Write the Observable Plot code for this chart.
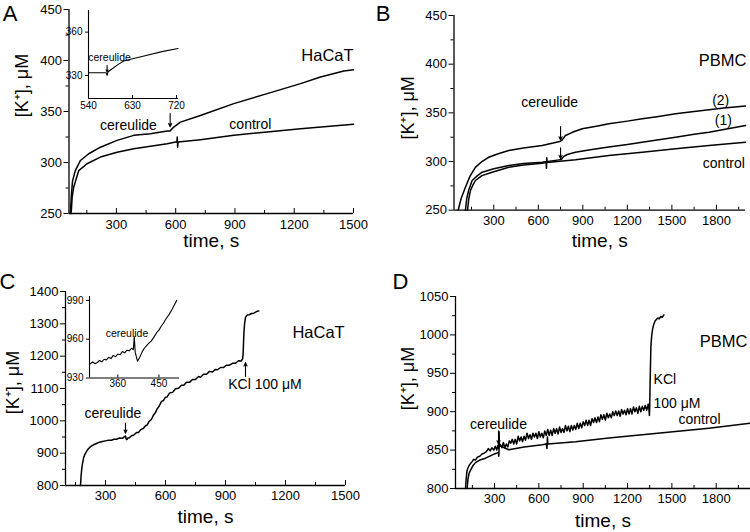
<!DOCTYPE html>
<html><head><meta charset="utf-8">
<script src="https://cdn.jsdelivr.net/npm/d3@7"></script>
<script src="https://cdn.jsdelivr.net/npm/@observablehq/plot@0.6"></script>
<style>
body{margin:0;background:#fff;}
#wrap{position:relative;width:750px;height:532px;overflow:hidden;background:#fff;}
#wrap > div, #wrap > svg{position:absolute;}
</style></head><body><div id="wrap"></div>
<script>
// ---------- Panel A (HaCaT) ----------
const aCereT = [67,72,78,92,118,160,219,303,388,472,557,572,590,624,725,894,1063,1232,1333,1451,1500];
const aCereK = [250,268,282,292,302,308.6,315,321.7,326.6,328.3,330.8,331,334.7,339.6,346,357.7,367.5,377.3,383.8,389.7,391];
const aCtrlT = [71,76,84,109,151,219,303,388,557,600,606,608,610,612,725,894,1063,1232,1500];
const aCtrlK = [250,266,276,292,298.8,305.3,310,313.5,318.4,320,320,325,315,320,322.4,326.6,330,333,337.4];
const aInsetT = [540,560,576,578,580,590,600,612,630,660,690,723];
const aInsetK = [331.9,331.9,331.9,330,332.5,335,337.5,340,341.5,344,346.5,348.7];
const aXMajor = [300,600,900,1200,1500], aXMinor = [150,450,750,1050,1350];
const aYMajor = [250,300,350,400,450], aYMinor = [275,325,375,425];
const aInsetX = [540,630,720], aInsetY = [330,360];
const annA = [{t:"HaCaT",x:1368,y:405},{t:"cereulide",x:361,y:336},{t:"control",x:978,y:337}];
const arrA = [{x:572,y1:348,y2:335}];
const annAInset = [{t:"cereulide",x:583,y:342.5}];
const arrAInset = [{x:578,y1:337,y2:332.3}];

// ---------- Panel B (PBMC) ----------
const b2T = [60,80,109,140,176,220,266,330,401,500,626,700,750,760,783,830,896,1000,1075,1200,1300,1400,1525,1650,1750,1850,1996];
const b2K = [250,262,273.6,285,294,300,304.4,308,311.3,313.8,316.5,319,320.9,322,326.7,330,333.6,336.5,338.7,341.5,343.9,346,349,351.5,353.1,355,357];
const b1T = [109,118,130,154,190,222,300,401,500,626,739,755,770,795,850,950,1075,1200,1300,1400,1525,1650,1750,1850,1996];
const b1K = [250,262,270,280.5,285.5,289,292.5,295.9,298,299.3,301.7,302,305,307.2,309.5,312,314.8,317.5,319.9,322.2,325,327.9,330.1,333,337];
const bCtrlT = [123,132,143,160,176,220,289,401,500,626,653,655,657,659,851,1075,1300,1525,1750,1996];
const bCtrlK = [250,262,270.2,276,280.5,285.5,289,294.2,296.5,298.3,299,293,304,299,301.8,306.2,309.6,313.1,316.5,319.9];
const bXMajor = [300,600,900,1200,1500,1800], bXMinor = [150,450,750,1050,1350,1650,1950];
const bYMajor = [250,300,350,400,450], bYMinor = [275,325,375,425];
const annB = [{t:"PBMC",x:1842,y:404},{t:"(2)",x:1829,y:363},{t:"(1)",x:1847,y:342},{t:"control",x:1850,y:298},{t:"cereulide",x:676,y:361}];
const arrB = [{x:750,y1:336,y2:322},{x:750,y1:314,y2:303}];

// ---------- Panel C (HaCaT, KCl) ----------
const cT = [175,178,181,185,190,196,203,212,225,240,255,270,285,300,315,330,342,355,370,385,395,400,403,407,412,420,430,442,455,465,475,490,500,508,518,530,540,550,558,568,580,590,600,608,620,635,650,665,680,692,705,720,735,750,765,775,790,805,820,835,848,860,875,890,905,920,935,950,965,978,985,988,990,992,995,1000,1008,1018,1030,1042,1055,1067];
const cK = [800,830,850,868,884,895,903,912,920,926,930,934,936,938,940,940,943,943,947,946,951,953,944,942,947,948,954,956,964,964,972,977,985,987,998,1005,1018,1026,1037,1045,1060,1063,1073,1074,1086,1088,1099,1101,1110,1110,1119,1119,1128,1128,1137,1135,1144,1144,1153,1151,1159,1158,1165,1165,1172,1172,1178,1178,1186,1185,1191,1205,1240,1270,1298,1320,1327,1328,1332,1333,1338,1340];
const cInsetT = [300,305,310,315,320,325,330,335,340,345,350,355,360,365,370,375,380,385,390,394,396,398,403,408,413,418,423,428,433,438,445,450,455,460,466,472,478,483,486,489];
const cInsetK = [941,942.5,941,942,943.5,942.5,944.5,944,946,945,947.5,946.5,948.5,948,950.5,949.5,951.5,951,953,952,962,950,943,946,950,953,955,957,958.5,961,965,967,970,972.5,976,979,982.5,986,988,990];
const cXMajor = [300,600,900,1200,1500], cXMinor = [150,450,750,1050,1350];
const cYMajor = [800,900,1000,1100,1200,1300,1400], cYMinor = [850,950,1050,1150,1250,1350];
const cInsetX = [360,450], cInsetY = [930,960,990];
const annC = [{t:"HaCaT",x:1365,y:1271},{t:"cereulide",x:337,y:1024},{t:"KCl 100 μM",x:1097,y:1113}];
const arrC = [{x:400,y1:993,y2:962},{x:1000,y1:1137,y2:1180}];
const annCInset = [{t:"cereulide",x:380,y:964}];

// ---------- Panel D (PBMC, KCl) ----------
const dT = [104,108,113,118,126,135,148,160,171,185,200,215,230,245,258,270,282,295,305,315,322,327,329,331,333,
  340,350,360,370,380,390,400,410,420,430,440,450,460,470,480,490,500,510,520,530,540,550,560,570,580,590,
  600,610,620,630,640,650,660,670,680,690,700,710,720,730,740,750,760,770,780,790,800,810,820,830,840,850,
  860,870,880,890,900,910,920,930,940,950,960,970,980,990,1000,1010,1020,1030,1040,1050,1060,1070,1080,1090,
  1100,1110,1120,1130,1140,1150,1160,1170,1180,1190,1200,1210,1220,1230,1240,1250,1260,1270,1280,1290,1300,
  1310,1320,1330,1340,1345,1348,1350,1352,1355,1358,1364,1370,1378,1386,1395,1405,1415,1425,1435,1446];
const dK = [800,812,822,826,829,832,835,838,837,841,842,845,846,848,852,849,853,850,855,850,856,852,866,874,856,
  857,853,860,853,858,854,862,859,864,858,864,858,868,862,867,861,868,863,872,865,870,864,872,867,872,865,
  874,867,872,866,875,869,877,869,876,869,878,872,878,871,880,873,878,873,882,875,881,874,882,876,882,877,
  885,878,885,879,887,882,889,882,889,882,891,886,892,886,893,887,896,890,896,889,898,892,897,892,
  900,895,901,895,901,894,903,897,902,896,904,897,904,897,906,900,905,898,907,900,907,
  902,908,902,910,903,895,905,930,958,985,1000,1008,1014,1018,1020,1022,1021,1024,1023,1026];
const dCtrlT = [115,120,128,138,155,171,200,239,300,326,329,332,397,500,623,650,655,658,661,848,1073,1299,1525,1750,2032];
const dCtrlK = [800,812,820,824,830,833.7,837,839.5,845,847,842,856,850.4,854,857,858,852,867,858,861,865.6,870,874.2,878.5,885];
const dXMajor = [300,600,900,1200,1500,1800], dXMinor = [150,450,750,1050,1350,1650,1950];
const dYMajor = [800,850,900,950,1000,1050], dYMinor = [825,875,925,975,1025];
const annD = [{t:"PBMC",x:1849,y:991},{t:"control",x:1687,y:890},{t:"cereulide",x:327,y:883}];
const annDLeft = [{t:"KCl",x:1376,y:942},{t:"100 μM",x:1376,y:911}];
const arrD = [{x:327,y1:875,y2:858}];

const FONT = '"Liberation Sans", Arial, Helvetica, sans-serif';
const fmt = d => String(d);
const pts = (X, Y) => X.map((x, i) => ({x, y: Y[i]}));

function panel(o) {
  const fh = o.h - o.mt - o.mb;
  const marks = [
    Plot.ruleX([o.xDom[0]], {strokeWidth: o.axisW}),
    Plot.ruleY([o.yDom[0]], {strokeWidth: o.axisW}),
    Plot.axisY({ticks: o.yMajor, tickSize: o.ytick, tickPadding: o.ypad, tickFormat: fmt, label: null, fontSize: o.tickFont}),
    Plot.axisX({ticks: o.xMajor, tickSize: 0, tickPadding: o.xpad, tickFormat: fmt, label: null, fontSize: o.tickFont}),
    Plot.tickX(o.xMajor, {x: d => d, insetTop: fh - o.xtick})
  ];
  if (o.yMinor) marks.push(Plot.axisY({ticks: o.yMinor, tickSize: 3, tickFormat: () => "", label: null}));
  if (o.xMinor) marks.push(Plot.tickX(o.xMinor, {x: d => d, insetTop: fh - 3}));
  for (const s of o.series) marks.push(Plot.line(s, {x: "x", y: "y", strokeWidth: o.lineW, curve: "linear"}));
  for (const a of (o.ann || [])) marks.push(Plot.text([a], {x: "x", y: "y", text: "t", fontSize: a.t === "HaCaT" || a.t === "PBMC" ? 16.5 : o.annFont, textAnchor: "middle", lineAnchor: "middle"}));
  for (const a of (o.annLeft || [])) marks.push(Plot.text([a], {x: "x", y: "y", text: "t", fontSize: o.annFont, textAnchor: "start", lineAnchor: "middle"}));
  if (o.arrows) marks.push(Plot.arrow(o.arrows, {x1: "x", x2: "x", y1: "y1", y2: "y2", headLength: o.headLen || 5, headAngle: 50, strokeWidth: 1.1}));
  if (o.xTitle) marks.push(Plot.text([o.xTitle], {frameAnchor: "bottom", dx: o.xTitleDx || 0, dy: o.xTitleDy, fontSize: 19, textAnchor: "middle", lineAnchor: "middle"}));
  if (o.yTitle) marks.push(Plot.text([o.yTitle], {frameAnchor: "left", rotate: -90, dx: o.yTitleDx, dy: o.yTitleDy, fontSize: 18, textAnchor: "middle", lineAnchor: "middle"}));
  if (o.letter) marks.push(Plot.text([o.letter], {frameAnchor: "top-left", dx: o.letterDx, dy: o.letterDy, fontSize: 22, textAnchor: "middle", lineAnchor: "middle"}));
  return Plot.plot({
    width: o.w, height: o.h,
    marginLeft: o.ml, marginRight: o.mr, marginTop: o.mt, marginBottom: o.mb,
    x: {domain: o.xDom}, y: {domain: o.yDom},
    style: {fontFamily: FONT, fontSize: o.tickFont + "px", background: "transparent", color: "#000", overflow: "visible"},
    marks
  });
}

const wrap = document.getElementById("wrap");
function place(el, left, top) { el.style.left = left + "px"; el.style.top = top + "px"; el.style.position = "absolute"; wrap.appendChild(el); }

const base = {w: 375, h: 266, ytick: 5, xtick: 5, ypad: 2, tickFont: 13, annFont: 14, lineW: 1.5, axisW: 1.3, xTitle: "time, s", yTitle: "[K⁺], μM"};

place(panel({...base, ml: 68.5, mr: 22, mt: 9, mb: 53, xDom: [60, 1500], yDom: [250, 450],
  xMajor: aXMajor, xMinor: aXMinor, yMajor: aYMajor, yMinor: aYMinor, xpad: 6,
  series: [pts(aCereT, aCereK), pts(aCtrlT, aCtrlK)], ann: annA, arrows: arrA,
  xTitleDy: 27, yTitleDx: -46.5, yTitleDy: -26, letter: "A", letterDx: -59, letterDy: 4}), 0, 0);

place(panel({...base, ml: 78.5, mr: 5, mt: 15, mb: 56.3, xDom: [32, 1996], yDom: [250, 450],
  xMajor: bXMajor, xMinor: bXMinor, yMajor: bYMajor, yMinor: bYMinor, xpad: 6,
  series: [pts(b2T, b2K), pts(b1T, b1K), pts(bCtrlT, bCtrlK)], ann: annB, arrows: arrB,
  xTitleDy: 31, yTitleDx: -45.5, yTitleDy: -5, letter: "B", letterDx: -71, letterDy: -2}), 375, 0);

place(panel({...base, ml: 65, mr: 30, mt: 25, mb: 47, xDom: [100, 1500], yDom: [800, 1400],
  xMajor: cXMajor, xMinor: cXMinor, yMajor: cYMajor, yMinor: cYMinor, xpad: 5,
  series: [pts(cT, cK)], ann: annC, arrows: arrC,
  xTitleDy: 31, yTitleDx: -52, yTitleDy: -6, letter: "C", letterDx: -58, letterDy: -10}), 0, 266);

place(panel({...base, ml: 80, mr: 0, mt: 30, mb: 44, xDom: [36, 2032], yDom: [800, 1050],
  xMajor: dXMajor, xMinor: dXMinor, yMajor: dYMajor, yMinor: dYMinor, xpad: 5,
  series: [pts(dT, dK), pts(dCtrlT, dCtrlK)], ann: annD, annLeft: annDLeft, arrows: arrD,
  xTitleDy: 32, yTitleDx: -47, yTitleDy: -14, letter: "D", letterDx: -55, letterDy: -14.5}), 375, 266);

// insets
const inset = {ytick: 3, xtick: 3, ypad: 3, tickFont: 10, annFont: 10.5, lineW: 1.1, axisW: 1.1, headLen: 4};
place(panel({...inset, w: 125, h: 112, ml: 28, mr: 7, mt: 10, mb: 14, xDom: [540, 724], yDom: [314, 375],
  xMajor: aInsetX, yMajor: aInsetY, xpad: 3, series: [pts(aInsetT, aInsetK)], ann: annAInset, arrows: arrAInset}), 60, 0);

place(panel({...inset, w: 125, h: 104, ml: 29, mr: 6, mt: 10, mb: 12.5, xDom: [298, 495], yDom: [930, 993],
  xMajor: cInsetX, yMajor: cInsetY, xpad: 2, series: [pts(cInsetT, cInsetK)], ann: annCInset}), 60, 286);
</script>
</body></html>
